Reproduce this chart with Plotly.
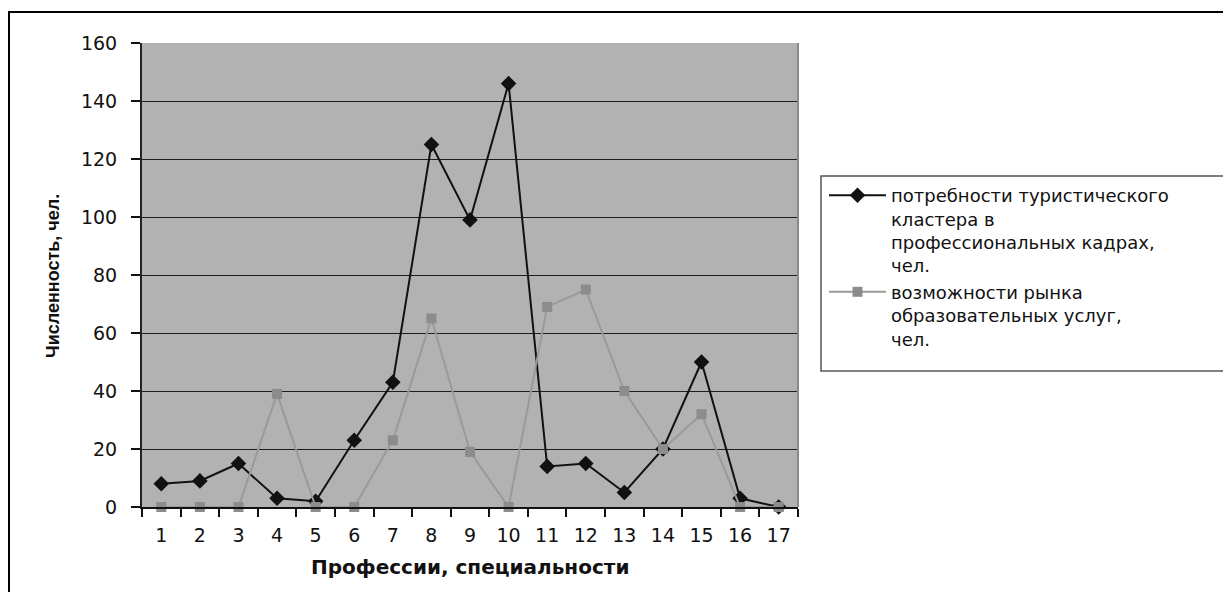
import plotly.graph_objects as go

# Профессии / специальности (номера)
categories = [str(i) for i in range(1, 18)]

# потребности туристического кластера в профессиональных кадрах, чел.
demand = [8, 9, 15, 3, 2, 23, 43, 125, 99, 146, 14, 15, 5, 20, 50, 3, 0]

# возможности рынка образовательных услуг, чел.
supply = [0, 0, 0, 39, 0, 0, 23, 65, 19, 0, 69, 75, 40, 20, 32, 0, 0]

y_ticks = list(range(0, 161, 20))

W, H = 1223, 592
L, R, T, B = 142, 798, 43, 507  # plot area in pixels


def px_x(px):
    return (px - L) / (R - L)


def px_y(py):
    return (B - py) / (B - T)


tick_font = dict(family="DejaVu Sans", size=19, color="#111111")

fig = go.Figure()

fig.add_trace(go.Scatter(
    x=categories, y=demand, mode="lines+markers",
    name="потребности туристического<br>кластера в<br>профессиональных кадрах,<br>чел.",
    line=dict(color="#111111", width=2),
    marker=dict(symbol="diamond", size=12, color="#111111"),
    cliponaxis=False,
))

fig.add_trace(go.Scatter(
    x=categories, y=supply, mode="lines+markers",
    name="возможности рынка<br>образовательных услуг,<br>чел.",
    line=dict(color="#9a9a9a", width=2),
    marker=dict(symbol="square", size=10, color="#8c8c8c"),
    cliponaxis=False,
))

shapes = [
    # outer chart frame (continues past the right and bottom edges)
    dict(type="rect", xref="paper", yref="paper",
         x0=px_x(9), x1=px_x(1260), y0=px_y(12), y1=px_y(640),
         line=dict(color="#000000", width=2), layer="below"),
    # right border of the plot area
    dict(type="line", xref="paper", yref="paper",
         x0=1, x1=1, y0=0, y1=1, line=dict(color="#8a8a8a", width=2)),
    # legend frame
    dict(type="rect", xref="paper", yref="paper",
         x0=px_x(821), x1=px_x(1260), y0=px_y(176), y1=px_y(371),
         line=dict(color="#555555", width=1.5)),
]

annotations = [
    dict(text="<b>Профессии, специальности</b>", xref="paper", yref="paper",
         x=px_x(470), y=px_y(567), showarrow=False,
         font=dict(family="DejaVu Sans", size=20, color="#111111"),
         xanchor="center", yanchor="middle"),
    dict(text="<b>Численность, чел.</b>", xref="paper", yref="paper",
         x=px_x(53), y=px_y(276), showarrow=False, textangle=-90,
         font=dict(family="Liberation Sans", size=18, color="#111111"),
         xanchor="center", yanchor="middle"),
]

fig.update_layout(
    width=W, height=H,
    margin=dict(l=L, r=W - R, t=T, b=H - B, pad=0),
    paper_bgcolor="#ffffff",
    plot_bgcolor="#b2b2b2",
    showlegend=True,
    legend=dict(
        x=px_x(824), y=px_y(177), xanchor="left", yanchor="top",
        font=dict(family="DejaVu Sans", size=18, color="#111111"),
        bgcolor="rgba(0,0,0,0)", borderwidth=0,
        itemwidth=57, tracegroupgap=0, valign="top",
    ),
    shapes=shapes,
    annotations=annotations,
    xaxis=dict(
        type="category", range=[-0.5, 16.5],
        showgrid=False, tickson="boundaries",
        ticks="outside", ticklen=8, tickcolor="#111111", tickwidth=1.5,
        showline=True, linecolor="#111111", linewidth=1.5,
        tickfont=tick_font, ticklabelstandoff=10,
    ),
    yaxis=dict(
        range=[0, 160], tickvals=y_ticks,
        showgrid=True, gridcolor="#1e1e1e", gridwidth=1,
        zeroline=False,
        ticks="outside", ticklen=9, tickcolor="#111111", tickwidth=1.5,
        showline=True, linecolor="#222222", linewidth=2,
        tickfont=tick_font, ticklabelstandoff=10,
    ),
)

fig.write_html("out.html")
